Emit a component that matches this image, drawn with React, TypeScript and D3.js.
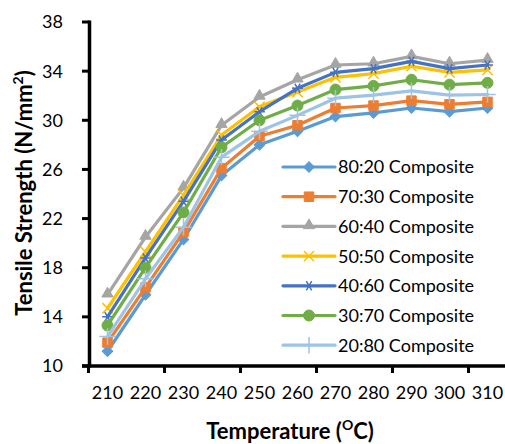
import React from "react";
import * as d3 from "d3";

const categories = ["210", "220", "230", "240", "250", "260", "270", "280", "290", "300", "310"];
const yTicks = [10, 14, 18, 22, 26, 30, 34, 38];

const s8020 = [11.2, 15.8, 20.3, 25.5, 28.0, 29.1, 30.3, 30.6, 31.0, 30.7, 31.0];
const s7030 = [11.9, 16.4, 20.9, 26.1, 28.7, 29.6, 31.0, 31.2, 31.6, 31.3, 31.5];
const s6040 = [15.8, 20.5, 24.5, 29.6, 31.9, 33.3, 34.5, 34.6, 35.2, 34.6, 34.9];
const s5050 = [14.7, 19.3, 23.9, 28.8, 31.1, 32.3, 33.5, 33.8, 34.4, 33.9, 34.1];
const s4060 = [14.0, 18.8, 23.4, 28.4, 30.7, 32.6, 33.9, 34.2, 34.8, 34.2, 34.5];
const s3070 = [13.3, 18.0, 22.5, 27.8, 30.0, 31.2, 32.5, 32.8, 33.3, 32.9, 33.05];
const s2080 = [12.4, 17.1, 21.3, 27.0, 29.1, 30.4, 31.8, 32.05, 32.4, 32.05, 32.1];

const seriesNames = [
  "80:20 Composite",
  "70:30 Composite",
  "60:40 Composite",
  "50:50 Composite",
  "40:60 Composite",
  "30:70 Composite",
  "20:80 Composite",
];
const seriesValues = [s8020, s7030, s6040, s5050, s4060, s3070, s2080];
const colors = ["#5B9BD5", "#ED7D31", "#A5A5A5", "#FFC000", "#4472C4", "#70AD47", "#9DC3E6"];
const markerKinds = ["diamond", "square", "triangle", "x", "star", "circle", "plus"];

const FONT = "Lato, 'Liberation Sans', sans-serif";

function Marker({ kind, x, y, color }: { kind: string; x: number; y: number; color: string }) {
  const t = `translate(${x},${y})`;
  if (kind === "diamond") {
    const p = d3.symbol(d3.symbolSquare, 56)()!;
    return <path d={p} transform={`${t} rotate(45)`} fill={color} stroke={color} strokeWidth={1} />;
  }
  if (kind === "square") {
    const p = d3.symbol(d3.symbolSquare, 90)()!;
    return <path d={p} transform={t} fill={color} stroke={color} strokeWidth={1} />;
  }
  if (kind === "triangle") {
    const p = d3.symbol(d3.symbolTriangle, 55)()!;
    return <path d={p} transform={`${t} translate(0,-1)`} fill={color} stroke={color} strokeWidth={1} />;
  }
  if (kind === "circle") {
    const p = d3.symbol(d3.symbolCircle, 95)()!;
    return <path d={p} transform={t} fill={color} stroke={color} strokeWidth={1} />;
  }
  if (kind === "x") {
    const p = d3.symbol(d3.symbolTimes, 70)()!;
    return <path d={p} transform={t} fill="none" stroke={color} strokeWidth={1.5} />;
  }
  if (kind === "star") {
    const p = d3.symbol(d3.symbolAsterisk, 80)()!;
    return <path d={p} transform={`${t} rotate(30)`} fill="none" stroke={color} strokeWidth={1.5} />;
  }
  const p = d3.symbol(d3.symbolPlus, 90)()!;
  return <path d={p} transform={t} fill="none" stroke={color} strokeWidth={1.5} />;
}

export default function App() {
  const W = 505;
  const H = 444;
  const x = d3.scaleBand<string>().domain(categories).range([88.5, 506.5]).paddingInner(0).paddingOuter(0);
  const y = d3.scaleLinear().domain([10, 38]).range([366, 22]);
  const cx = (c: string) => (x(c) as number) + x.bandwidth() / 2;

  const line = d3
    .line<number>()
    .x((_, i) => cx(categories[i]))
    .y((v) => y(v));

  const xTickIdx = categories.map((_, i) => i).filter((i) => i % 2 === 0);

  const legendX = 283;
  const legendY0 = 167;
  const legendStep = 29.7;

  return (
    <svg width={W} height={H} style={{ position: "absolute", left: 0, top: 0, background: "#fff" }} fontFamily={FONT}>
      <rect width={W} height={H} fill="#fff" />
      {/* series */}
      {seriesValues.map((vals, si) => (
        <g key={si}>
          <path d={line(vals)!} fill="none" stroke={colors[si]} strokeWidth={3.2} strokeLinejoin="round" strokeLinecap="round" />
          {vals.map((v, i) => (
            <Marker key={i} kind={markerKinds[si]} x={cx(categories[i])} y={y(v)} color={colors[si]} />
          ))}
        </g>
      ))}
      {/* y axis */}
      <line x1={89.5} x2={89.5} y1={y(38) - 1.5} y2={y(10) + 1.5} stroke="#000" strokeWidth={3.5} />
      {yTicks.map((t) => (
        <g key={t}>
          <line x1={82} x2={89.5} y1={y(t)} y2={y(t)} stroke="#000" strokeWidth={3} />
          <text x={63} y={y(t)} dy="0.36em" textAnchor="end" fontSize={18} fill="#000">
            {t}
          </text>
        </g>
      ))}
      {/* x axis */}
      <line x1={82} x2={W} y1={366} y2={366} stroke="#000" strokeWidth={3.5} />
      {xTickIdx.map((i) => (
        <line key={i} x1={x(categories[i])} x2={x(categories[i])} y1={366} y2={373} stroke="#000" strokeWidth={3} />
      ))}
      {categories.map((c) => (
        <text key={c} x={cx(c)} y={399} textAnchor="middle" fontSize={18} fill="#000">
          {c}
        </text>
      ))}
      {/* axis titles */}
      <text x={290} y={438.5} textAnchor="middle" fontSize={22} fontWeight="bold" fill="#000">
        Temperature (<tspan fontSize={14} dy={-9}>O</tspan>
        <tspan dy={9}>C)</tspan>
      </text>
      <text
        transform={`translate(32,${193}) rotate(-90)`}
        textAnchor="middle"
        fontSize={22}
        fontWeight="bold"
        fill="#000"
      >
        Tensile Strength (N/mm<tspan fontSize={14} dy={-9}>2</tspan>
        <tspan dy={9}>)</tspan>
      </text>
      {/* legend */}
      {seriesNames.map((n, si) => {
        const ly = legendY0 + si * legendStep;
        return (
          <g key={n}>
            <line x1={legendX} x2={legendX + 52} y1={ly} y2={ly} stroke={colors[si]} strokeWidth={3.2} strokeLinecap="round" />
            <Marker kind={markerKinds[si]} x={legendX + 26} y={ly} color={colors[si]} />
            <text x={legendX + 55} y={ly} dy="0.36em" fontSize={18} fill="#000">
              {n}
            </text>
          </g>
        );
      })}
    </svg>
  );
}
